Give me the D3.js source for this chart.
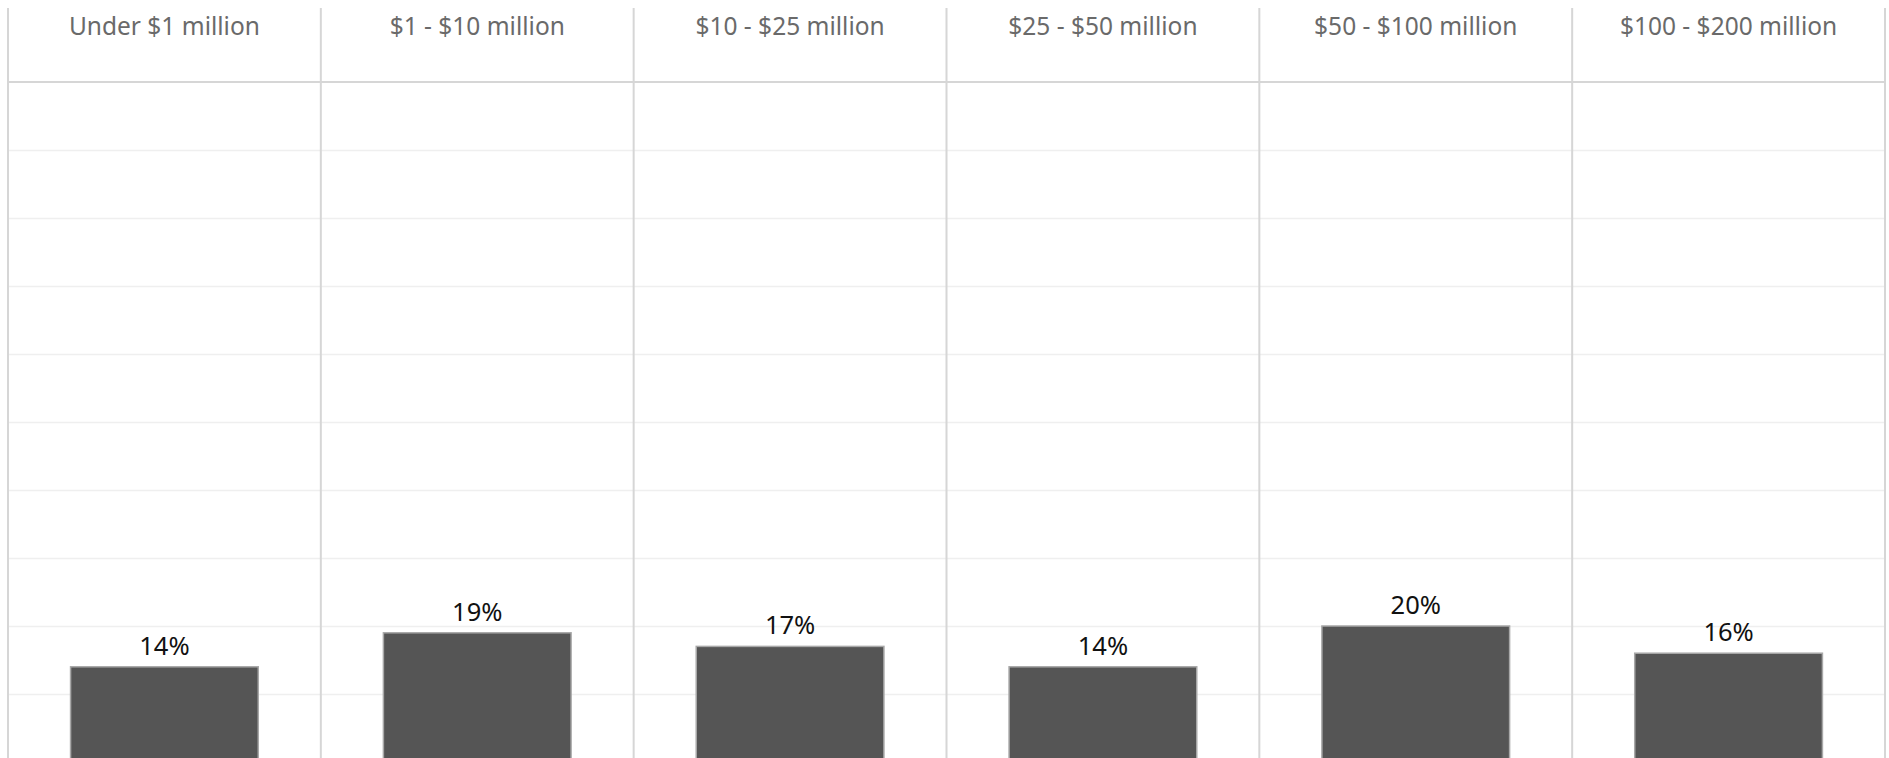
<!DOCTYPE html>
<html>
<head>
<meta charset="utf-8">
<script src="https://cdn.jsdelivr.net/npm/d3@7"></script>
<style>
  html, body { margin: 0; padding: 0; background: #ffffff; overflow: hidden; }
  svg { display: block; }
</style>
</head>
<body>
<svg id="chart" width="1889" height="758"></svg>
<script>
// Revenue bands shown as side-by-side panels
const categories = [
  "Under $1 million",
  "$1 - $10 million",
  "$10 - $25 million",
  "$25 - $50 million",
  "$50 - $100 million",
  "$100 - $200 million"
];
// Share of respondents in each band (percent)
const shares = [14, 19, 17, 14, 20, 16];
// Value-axis gridline positions (percent)
const gridTicks = [10, 20, 30, 40, 50, 60, 70, 80, 90];

const W = 1889, H = 758;
const plotLeft = 8, plotRight = 1885, plotTop = 8, headerBottom = 82, zeroY = 762;

const svg = d3.select("#chart");

const x = d3.scaleBand()
  .domain(categories)
  .range([plotLeft, plotRight])
  .paddingInner(0)
  .paddingOuter(0);

const y = d3.scaleLinear()
  .domain([0, 100])
  .range([zeroY, headerBottom]);

const fontFamily = "'Noto Sans', 'Open Sans', sans-serif";

// Horizontal gridlines
svg.append("g")
  .selectAll("line")
  .data(gridTicks)
  .join("line")
  .attr("x1", plotLeft)
  .attr("x2", plotRight)
  .attr("y1", d => Math.round(y(d)) + 0.5)
  .attr("y2", d => Math.round(y(d)) + 0.5)
  .attr("stroke", "#efefef")
  .attr("stroke-width", 1.5);

// Header divider
svg.append("line")
  .attr("x1", plotLeft)
  .attr("x2", plotRight)
  .attr("y1", headerBottom)
  .attr("y2", headerBottom)
  .attr("stroke", "#d6d6d6")
  .attr("stroke-width", 2);

// Panel separators
const edges = categories.map(c => x(c)).concat([plotRight]);
svg.append("g")
  .selectAll("line")
  .data(edges)
  .join("line")
  .attr("x1", d => d)
  .attr("x2", d => d)
  .attr("y1", plotTop)
  .attr("y2", H)
  .attr("stroke", "#d6d6d6")
  .attr("stroke-width", 2);

// Panel headers
svg.append("g")
  .selectAll("text")
  .data(categories)
  .join("text")
  .attr("x", d => x(d) + x.bandwidth() / 2)
  .attr("y", 35)
  .attr("text-anchor", "middle")
  .attr("font-family", fontFamily)
  .attr("font-size", 24.5)
  .attr("fill", "#6a6a6a")
  .text(d => d);

// Bars
const barFrac = 0.6;
const bw = x.bandwidth() * barFrac;
svg.append("g")
  .selectAll("rect")
  .data(shares)
  .join("rect")
  .attr("x", (d, i) => x(categories[i]) + (x.bandwidth() - bw) / 2)
  .attr("y", d => y(d))
  .attr("width", bw)
  .attr("height", d => zeroY - y(d))
  .attr("fill", "#555555")
  .attr("stroke", "#a8a8a8")
  .attr("stroke-width", 1.5);

// Value labels
svg.append("g")
  .selectAll("text")
  .data(shares)
  .join("text")
  .attr("x", (d, i) => x(categories[i]) + x.bandwidth() / 2)
  .attr("y", d => y(d) - 12)
  .attr("text-anchor", "middle")
  .attr("font-family", fontFamily)
  .attr("font-size", 25.5)
  .attr("fill", "#111111")
  .text(d => d + "%");
</script>
</body>
</html>
